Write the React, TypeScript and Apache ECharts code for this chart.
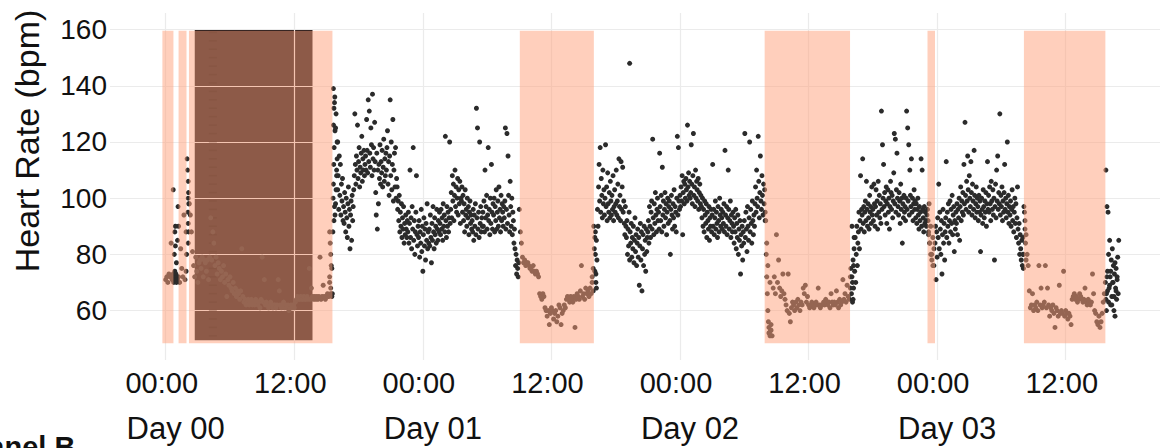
import React, { useEffect, useRef } from "react";
import * as echarts from "echarts";

// ---- tick labels ----
const yTicks = [60, 80, 100, 120, 140, 160];
const xTicks = [0, 12, 24, 36, 48, 60, 72, 84];
const timeLabels = ["00:00", "12:00"];
const dayTicks = [0, 24, 48, 72];
const dayLabels = ["Day 00", "Day 01", "Day 02", "Day 03"];
const yTitle = "Heart Rate (bpm)";
const panelLabel = "Panel B";

// ---- shaded periods (hours since Day 00 00:00) ----
const sleepBands: [number, number][] = [
  [-0.31, 0.72], [1.2, 1.94], [2.17, 15.56], [33.05, 39.96], [55.9, 63.87], [71.1, 71.8], [80.1, 87.7],
];
const sleepRange = [48.4, 159.6];
const darkBand = [2.71, 13.7];
const darkRange = [49.4, 159.85];

// ---- heart-rate samples, per segment (start hour, step in hours) ----
const segStart = [0, 2.2, 15.6, 33.0, 40.0, 56.0, 64.0, 71.1, 71.8, 80.1, 87.7];
const segStep = [0.1, 0.1, 0.05, 0.1, 0.05, 0.1, 0.05, 0.1, 0.05, 0.1, 0.05];

const seg0 = [71, 72, 70, 73, 72, 84, 71, 103, 80, 90, 77, 85, 72, 70, 82, 75, 72, 94, 71, 74, 114, 100];
const seg1 = [
  98, 94, 88, 81, 76, 72, 79, 74, 70, 77,
  78, 75, 79, 72, 78, 77, 74, 78, 71, 79,
  93, 78, 88, 84, 76, 79, 73, 77, 75, 71,
  74, 72, 76, 70, 73, 65, 71, 69, 72, 68,
  67, 70, 66, 68, 65, 67, 66, 64, 67, 82,
  65, 63, 64, 62, 63, 64, 62, 63, 64, 62,
  63, 62, 64, 63, 62, 63, 61, 64, 79, 63,
  71, 62, 63, 62, 61, 62, 63, 62, 61, 62,
  62, 61, 62, 71, 67, 62, 61, 62, 63, 61,
  62, 61, 62, 60, 61, 62, 61, 62, 61, 63,
  64, 65, 64, 64, 65, 64, 64, 65, 64, 64,
  65, 64, 75, 64, 68, 65, 64, 65, 64, 65,
  64, 65, 79, 64, 65, 69, 65, 64, 65, 66,
  65, 70, 66, 75,
];
const seg2 = [
  88, 139, 92, 134, 124, 98, 130, 110, 120, 103, 108, 96, 115, 101, 112, 94, 105, 99, 107, 92,
  97, 91, 102, 95, 88, 100, 93, 86, 98, 104, 90, 96, 82, 94, 99, 85, 101, 92, 97, 103,
  108, 130, 112, 105, 115, 110, 126, 107, 113, 118, 104, 111, 109, 116, 122, 106, 114, 110, 117, 108,
  112, 115, 110, 128, 117, 109, 135, 113, 131, 116, 111, 125, 119, 108, 137, 114, 118, 110, 127, 113,
  102, 94, 116, 89, 110, 98, 112, 107, 119, 105, 113, 109, 117, 104, 111, 121, 106, 114, 108, 116,
  110, 118, 124, 105, 113, 101, 115, 135, 108, 120, 103, 112, 128, 99, 110, 116, 104, 118, 100, 107,
  104, 96, 99, 92, 101, 88, 95, 90, 98, 86, 93, 89, 97, 84, 91, 87, 94, 89, 86, 92,
  88, 95, 84, 91, 110, 86, 93, 82, 97, 89, 118, 85, 92, 80, 88, 95, 108, 87, 83, 90,
  86, 92, 79, 88, 84, 96, 81, 90, 74, 87, 93, 83, 89, 78, 91, 85, 98, 82, 88, 84,
  89, 83, 94, 86, 77, 91, 85, 97, 88, 82, 93, 87, 90, 84, 96, 89, 85, 92, 88, 95,
  91, 87, 96, 89, 93, 85, 98, 90, 94, 88, 122, 92, 86, 97, 90, 95, 88, 93, 120, 91,
  96, 102, 93, 108, 99, 105, 92, 101, 110, 97, 104, 95, 100, 107, 94, 103, 98, 106, 91, 100,
  99, 104, 95, 101, 92, 98, 88, 103, 94, 96, 90, 100, 93, 97, 87, 95, 99, 91, 94, 89,
  92, 88, 96, 85, 94, 90, 98, 87, 132, 93, 125, 89, 95, 86, 120, 91, 97, 88, 93, 90,
  95, 90, 99, 88, 110, 93, 97, 101, 89, 94, 118, 92, 96, 87, 100, 91, 112, 95, 89, 98,
  94, 100, 88, 97, 92, 103, 89, 95, 99, 90, 104, 93, 96, 88, 101, 92, 98, 95, 90, 97,
  93, 99, 125, 89, 96, 123, 91, 115, 101, 94, 88, 106, 97, 90, 100, 87, 95, 92, 84, 89,
  82, 76, 80, 73, 78, 75, 72, 77,
];
const seg3 = [
  96, 88, 84, 79,
  77, 78, 76, 77, 77, 76,
  75, 75, 74, 76, 74, 73, 74, 73,
  72, 66, 65, 64, 66, 65,
  61, 60, 58, 60, 55, 59, 61, 60, 57, 59,
  60, 56, 58, 62, 61, 55, 59, 60, 62, 61,
  64, 65, 64, 63, 65, 64, 63, 65, 54, 64,
  66, 65, 64, 67, 76, 65, 66, 64, 68, 66,
  67, 65, 68, 66, 70, 67,
];
const seg4 = [
  82, 74, 88, 70, 85, 78, 96, 90, 104, 112, 99, 118, 95, 107, 101, 93, 110, 98, 103, 94,
  100, 119, 97, 104, 92, 109, 98, 95, 102, 93, 106, 99, 94, 101, 96, 108, 92, 97, 103, 95,
  98, 110, 94, 99, 105, 93, 114, 97, 101, 92, 113, 96, 104, 111, 95, 99, 91, 87, 97, 90,
  86, 92, 80, 89, 83, 95, 78, 88, 84, 91, 79, 86, 82, 90, 77, 85, 93, 81, 87, 76,
  84, 89, 79, 86, 69, 83, 91, 78, 88, 67, 82, 87, 76, 90, 80, 85, 74, 89, 81, 86,
  88, 92, 84, 97, 90, 86, 95, 99, 89, 121, 93, 87, 98, 91, 102, 94, 88, 96, 100, 92,
  95, 89, 116, 97, 92, 101, 88, 111, 94, 99, 90, 96, 102, 93, 98, 87, 95, 100, 91, 97,
  99, 92, 80, 96, 101, 94, 89, 98, 93, 103, 90, 97, 95, 88, 100, 122, 94, 118, 99, 96,
  101, 97, 104, 99, 108, 87, 102, 106, 98, 105, 100, 107, 103, 99, 126, 104, 109, 101, 106, 100,
  102, 119, 105, 98, 108, 123, 101, 104, 97, 110, 100, 106, 103, 99, 107, 96, 102, 105, 98, 101,
  97, 93, 100, 90, 96, 88, 99, 94, 91, 98, 86, 95, 92, 89, 97, 85, 93, 90, 96, 88,
  94, 112, 90, 96, 87, 93, 99, 89, 95, 91, 86, 97, 92, 88, 100, 94, 90, 96, 93, 89,
  95, 91, 98, 88, 117, 94, 90, 97, 87, 93, 110, 96, 89, 92, 99, 86, 94, 91, 88, 95,
  90, 84, 93, 88, 96, 82, 91, 86, 94, 80, 89, 85, 92, 73, 87, 83, 90, 78, 88, 84,
  92, 123, 86, 95, 89, 81, 97, 90, 85, 93, 120, 88, 96, 91, 84, 99, 92, 87, 94, 90,
  98, 104, 95, 110, 100, 97, 122, 106, 93, 102, 115, 99, 96, 108, 101, 94, 105, 98, 103, 92,
];
const seg5 = [
  92, 84, 76, 52, 70, 53,
  51, 68, 72, 66, 87, 70, 78, 68,
  65, 67, 73, 66, 64, 62, 60, 73, 59, 56,
  61, 63, 62, 60, 63, 61, 64, 62, 60, 63,
  62, 68, 66, 69, 63, 65, 62, 61, 62, 63,
  62, 61, 62, 63, 62, 68, 62, 61, 62, 62,
  63, 62, 64, 63, 62, 63, 61, 66, 63, 62,
  63, 62, 67, 63, 61, 64, 62, 63, 71, 64,
  66, 63, 69, 65, 64, 72,
];
const seg6 = [
  66, 72, 63, 78, 68, 82, 74, 86, 70, 80, 90, 76, 84, 88, 95, 82, 92, 108, 89, 96,
  94, 114, 91, 97, 88, 95, 99, 92, 106, 96, 90, 98, 93, 89, 101, 95, 97, 91, 104, 94,
  96, 92, 105, 98, 90, 97, 103, 94, 99, 89, 106, 95, 101, 93, 98, 91, 131, 96, 119, 100,
  112, 97, 102, 94, 99, 104, 91, 98, 103, 95, 100, 89, 97, 106, 102, 96, 101, 93, 99, 109,
  123, 98, 121, 95, 103, 116, 100, 97, 94, 102, 99, 91, 105, 96, 100, 84, 98, 93, 101, 95,
  97, 92, 100, 131, 96, 125, 99, 119, 94, 110, 101, 97, 114, 95, 100, 92, 98, 103, 96, 99,
  93, 98, 91, 96, 100, 94, 89, 97, 92, 95, 114, 90, 110, 96, 93, 88, 97, 91, 95, 92,
  90, 94,
];
const seg7 = [96, 88, 84, 90, 80, 76, 82];
const seg8 = [
  84, 90, 71, 88, 79, 93, 86, 105, 82, 95, 89, 80, 92, 73, 87, 96, 84, 91, 78, 88,
  93, 113, 86, 95, 90, 98, 84, 92, 99, 88, 96, 91, 101, 87, 94, 97, 81, 92, 89, 95,
  91, 98, 87, 96, 93, 100, 85, 97, 104, 92, 99, 95, 102, 94, 112, 98, 127, 101, 96, 106,
  99, 115, 103, 95, 108, 100, 97, 113, 102, 94, 105, 99, 96, 117, 101, 93, 98, 104, 95, 100,
  97, 92, 101, 95, 99, 81, 94, 100, 96, 91, 103, 97, 93, 99, 95, 102, 90, 98, 113, 96,
  101, 95, 104, 98, 92, 106, 99, 96, 103, 94, 100, 78, 97, 105, 93, 110, 99, 115, 96, 102,
  98, 130, 94, 101, 97, 104, 92, 99, 95, 102, 112, 96, 100, 93, 98, 120, 95, 101, 91, 97,
  94, 99, 90, 96, 103, 92, 97, 88, 95, 100, 91, 98, 86, 93, 104, 89, 84, 91, 80, 87,
  82, 78, 85, 76, 80, 75,
];
const seg9 = [
  97, 92, 87, 80, 76, 67,
  61, 62, 66, 60, 62, 61, 63, 60, 76, 62,
  68, 61, 62, 63, 76, 61, 68, 62, 58, 61,
  60, 62, 59, 54, 61, 60, 58, 69, 59, 60,
  59, 74, 58, 60, 59, 57, 59, 58, 55, 64,
  65, 66, 64, 65, 63, 64, 66, 65, 64, 63,
  64, 68, 63, 62, 64, 63, 62, 63, 73, 66,
  60, 59, 56, 55, 58, 54, 56, 59, 63, 66,
];
const seg10 = [70, 110, 66, 97, 74, 95, 80, 68, 85, 72, 62, 78, 65, 82, 70, 76, 60, 73, 58, 68, 75, 64, 71, 79, 66, 85];
const segments = [seg0, seg1, seg2, seg3, seg4, seg5, seg6, seg7, seg8, seg9, seg10];

// extra readings where many samples stack at nearly the same time
const extraPoints: [number, number][] = [
  [0.6, 72], [0.65, 71], [0.7, 73], [0.75, 70], [0.8, 72], [0.85, 74], [0.9, 71], [0.95, 73], [1.0, 70], [1.05, 72], [1.1, 71],
  [0.85, 88], [0.9, 83], [1.15, 97], [1.2, 90],
  [2.05, 110], [2.1, 106], [2.12, 102], [2.15, 98], [2.08, 95], [2.1, 91], [2.14, 88], [2.1, 84], [1.9, 88], [1.95, 80],
  [15.3, 88], [15.35, 84], [15.4, 80], [15.45, 76], [15.3, 72], [15.4, 68], [15.5, 65], [15.55, 66],
  [15.62, 100], [15.65, 105], [15.68, 112], [15.72, 118], [15.66, 126], [15.7, 132], [15.78, 136], [15.85, 125],
  [15.75, 97], [15.8, 94], [15.9, 103], [15.95, 108], [16.0, 114], [16.05, 120],
  [43.3, 148],
  [39.8, 72], [39.9, 75], [39.95, 90], [40.05, 86], [40.1, 80], [40.15, 73], [40.2, 68],
  [55.95, 95], [56.05, 80], [56.1, 72], [56.15, 66], [56.2, 60], [56.25, 56], [56.3, 54], [56.35, 52], [56.4, 51], [56.45, 53], [56.5, 55],
  [63.9, 68], [63.95, 75], [64.05, 90], [64.1, 70], [64.15, 64], [64.2, 76], [64.25, 86],
  [71.15, 92], [71.2, 87], [71.3, 84], [71.4, 80], [71.5, 78], [71.6, 86], [71.7, 76], [71.25, 98],
  [80.0, 86], [80.05, 80], [80.15, 95], [80.2, 89], [80.25, 84], [80.3, 78],
  [87.75, 64], [87.8, 60], [87.85, 72], [87.9, 67], [88.0, 63], [88.1, 69], [88.2, 74], [88.3, 62], [88.4, 70],
  [88.5, 65], [88.6, 77], [88.7, 67], [88.8, 72],
];

// faint marker column inside the dark band
const markerHour = 4.4;
const markerValues = [159, 156, 153, 150, 147, 144, 141, 138, 135, 132, 129, 126, 123, 120, 117, 114, 111, 108, 105, 102, 99, 96, 93, 90, 87, 84, 81, 78, 75, 72, 69, 66, 63, 60, 57, 54, 51];

const FONT = "'Liberation Sans', Arial, Helvetica, sans-serif";

function buildPoints(): [number, number][] {
  const pts: [number, number][] = [];
  segments.forEach((vals, s) => {
    vals.forEach((v, i) => pts.push([+(segStart[s] + i * segStep[s]).toFixed(3), v]));
  });
  extraPoints.forEach((p) => pts.push(p));
  return pts;
}

function buildOption(): any {
  const gridColor = "#ebebeb";
  return {
    animation: false,
    backgroundColor: "#ffffff",
    grid: { left: 110, right: 0, top: 13, bottom: 88, containLabel: false, outerBoundsMode: "none" },
    xAxis: [
      {
        type: "value",
        min: -5.2,
        max: 92.8,
        axisLine: { show: false },
        axisTick: { show: false, customValues: xTicks },
        axisLabel: {
          customValues: xTicks,
          formatter: (v: number) => timeLabels[Math.round(v / 12) % 2],
          fontSize: 29,
          color: "#111111",
          margin: 8,
          fontFamily: FONT,
          padding: [0, 8, 0, 0],
        },
        splitLine: { show: true, lineStyle: { color: gridColor, width: 1.2 } },
      },
      {
        type: "value",
        min: -5.2,
        max: 92.8,
        position: "bottom",
        offset: 45,
        axisLine: { show: false },
        axisTick: { show: false, customValues: dayTicks },
        axisLabel: {
          customValues: dayTicks,
          formatter: (v: number) => dayLabels[Math.round(v / 24)],
          fontSize: 31,
          color: "#111111",
          margin: 8,
          fontFamily: FONT,
          padding: [0, 0, 0, 20],
        },
        splitLine: { show: false },
      },
    ],
    yAxis: {
      type: "value",
      min: 42.4,
      max: 165.9,
      axisLine: { show: false },
      axisTick: { show: false, customValues: yTicks },
      axisLabel: { customValues: yTicks, fontSize: 28, color: "#111111", margin: 3, fontFamily: FONT },
      splitLine: { show: true, lineStyle: { color: gridColor, width: 1.2 } },
    },
    graphic: [
      {
        type: "text",
        x: 27,
        y: 141,
        rotation: Math.PI / 2,
        style: {
          text: yTitle,
          fontSize: 34,
          fontFamily: FONT,
          fill: "#111111",
          align: "center",
          verticalAlign: "middle",
          textAlign: "center",
          textVerticalAlign: "middle",
        },
      },
      {
        type: "text",
        x: -31,
        y: 432,
        style: {
          text: panelLabel,
          fontSize: 29,
          fontWeight: "bold",
          fontFamily: FONT,
          fill: "#111111",
          align: "left",
          verticalAlign: "top",
          textAlign: "left",
          textVerticalAlign: "top",
        },
      },
    ],
    series: [
      {
        name: "dark",
        type: "scatter",
        data: [],
        z: -1,
        silent: true,
        markArea: {
          silent: true,
          z: -1,
          itemStyle: { color: "#1b1416", opacity: 1 },
          data: [[{ xAxis: darkBand[0], yAxis: darkRange[0] }, { xAxis: darkBand[1], yAxis: darkRange[1] }]],
        },
      },
      {
        name: "marker",
        type: "scatter",
        symbol: "rect",
        symbolSize: [8, 1.5],
        silent: true,
        z: 2,
        itemStyle: { color: "#000000", opacity: 0.4 },
        data: markerValues.map((v) => [markerHour, v]),
      },
      {
        name: "hr",
        type: "scatter",
        symbolSize: 5,
        silent: true,
        z: 2,
        itemStyle: { color: "#2b2b2b", opacity: 1 },
        data: buildPoints(),
      },
      {
        name: "sleep",
        type: "scatter",
        data: [],
        z: 4,
        silent: true,
        markArea: {
          silent: true,
          z: 4,
          itemStyle: { color: "rgba(255,160,122,0.5)" },
          data: sleepBands.map(([a, b]) => [
            { xAxis: a, yAxis: sleepRange[0] },
            { xAxis: b, yAxis: sleepRange[1] },
          ]),
        },
      },
    ],
  };
}

export default function App() {
  const ref = useRef<HTMLDivElement>(null);
  useEffect(() => {
    document.body.style.margin = "0";
    const chart = echarts.init(ref.current as HTMLDivElement, null, { renderer: "svg" });
    chart.setOption(buildOption());
    return () => chart.dispose();
  }, []);
  return (
    <div
      ref={ref}
      style={{ position: "fixed", left: 0, top: 0, width: 1160, height: 448, background: "#ffffff" }}
    />
  );
}
